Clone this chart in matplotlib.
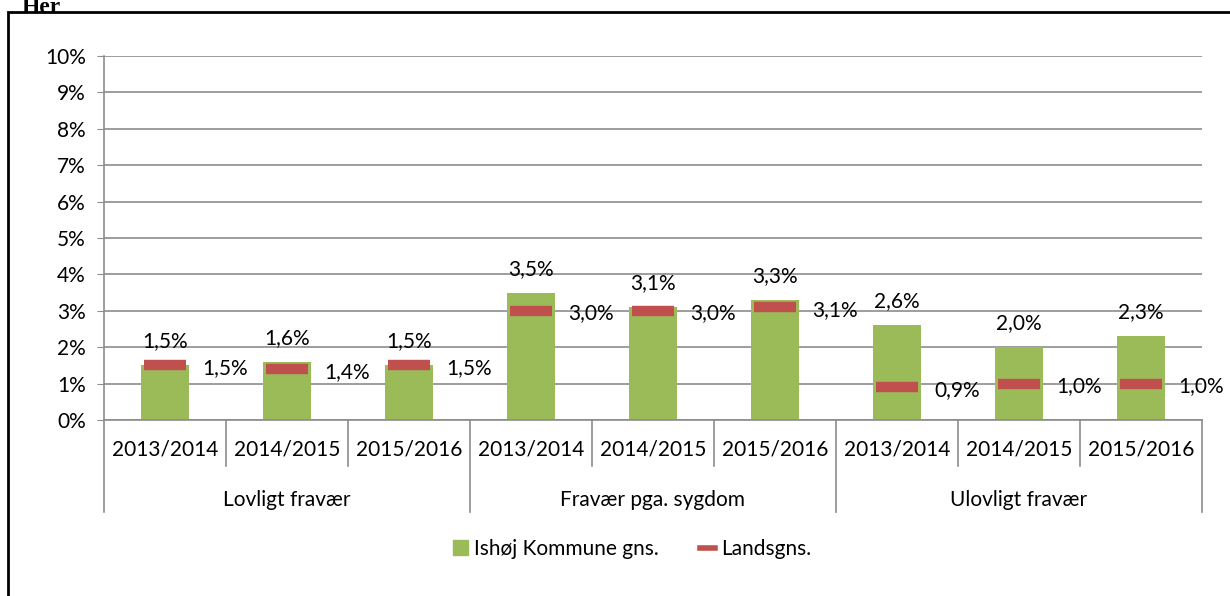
import numpy as np
import matplotlib.pyplot as plt
from matplotlib.lines import Line2D
from matplotlib.patches import Patch, Rectangle

plt.rcParams['font.family'] = ['Lato', 'DejaVu Sans']

# data
groups = ["Lovligt fravær", "Fravær pga. sygdom", "Ulovligt fravær"]
years = ["2013/2014", "2014/2015", "2015/2016"]
ishoj = [1.5, 1.6, 1.5, 3.5, 3.1, 3.3, 2.6, 2.0, 2.3]
lands = [1.5, 1.4, 1.5, 3.0, 3.0, 3.1, 0.9, 1.0, 1.0]

green = "#9BBB59"
red = "#C0504D"
grid = "#8c8c8c"
fs = 15

def pct(v):
    return f"{v:.1f}%".replace(".", ",")

fig = plt.figure(figsize=(12.3, 5.96), dpi=100)
ax = fig.add_axes([104 / 1230, 1 - 420 / 596, 1098 / 1230, 364 / 596])

x = np.arange(len(ishoj))
ax.bar(x, ishoj, width=0.39, color=green, zorder=2)
ax.hlines(lands, x - 0.17, x + 0.17, color=red, lw=7.5, zorder=3)

for xi, v in zip(x, ishoj):
    ax.annotate(pct(v), (xi, v), xytext=(0, 10), textcoords="offset points",
                ha="center", va="bottom", fontsize=fs)
for xi, v in zip(x, lands):
    ax.annotate(pct(v), (xi, v), xytext=(27, -2), textcoords="offset points",
                ha="left", va="center", fontsize=fs)

ax.set_xlim(-0.5, len(ishoj) - 0.5)
ax.set_ylim(0, 10)
ax.set_yticks(range(0, 11))
ax.set_yticklabels([f"{i}%" for i in range(0, 11)], fontsize=fs)
ax.yaxis.grid(True, color=grid, lw=1.2, zorder=0)
ax.tick_params(axis="y", length=5, color=grid, pad=8)
ax.set_xticks([])
for s in ["top", "right"]:
    ax.spines[s].set_visible(False)
for s in ["left", "bottom"]:
    ax.spines[s].set_color(grid)
    ax.spines[s].set_linewidth(1.2)

# hierarchical x axis
tr = ax.get_xaxis_transform()
for i in range(len(ishoj)):
    ax.text(i, -0.082, years[i % 3], transform=tr, ha="center", va="center", fontsize=fs)
for b in np.arange(-0.5, len(ishoj), 1.0):
    bottom = -0.253 if (b + 0.5) % 3 == 0 else -0.126
    ax.add_line(Line2D([b, b], [0, bottom], transform=tr, color=grid, lw=1.2, clip_on=False))
for g, name in enumerate(groups):
    ax.text(g * 3 + 1, -0.22, name, transform=tr, ha="center", va="center", fontsize=fs)

handles = [Patch(color=green, label="Ishøj Kommune gns."),
           Line2D([], [], color=red, lw=4, label="Landsgns.")]
fig.legend(handles=handles, loc="center", bbox_to_anchor=(0.514, 1 - 549 / 596),
           ncol=2, frameon=False, fontsize=fs, handlelength=0.7, handletextpad=0.3,
           columnspacing=2.0)

# outer frame and cut-off heading
fig.patches.append(Rectangle((8 / 1230, -0.1), 1.2, 1.1 - 12 / 596, transform=fig.transFigure,
                             fill=False, edgecolor="black", lw=2))
fig.text(22 / 1230, 1 - 13 / 596, "Her", family="Liberation Serif", weight="bold",
         fontsize=17, ha="left", va="baseline")

fig.savefig("out.png", dpi=100)
